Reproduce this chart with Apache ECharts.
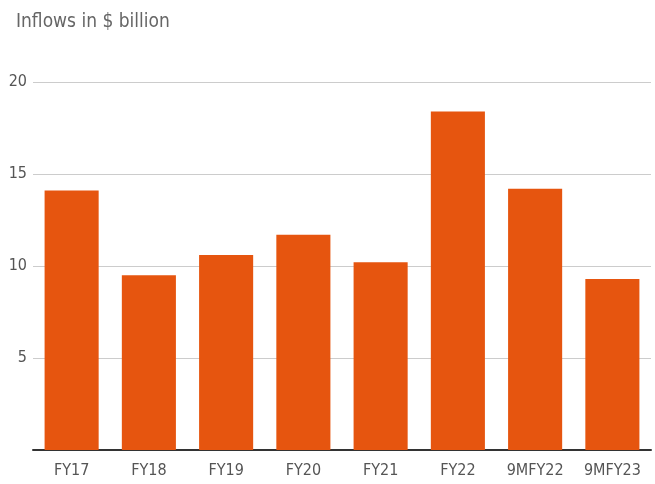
<!DOCTYPE html>
<html><head><meta charset="utf-8">
<script src="https://cdn.jsdelivr.net/npm/echarts@6/dist/echarts.min.js"></script>
<style>html,body{margin:0;padding:0;background:#fff}#c{width:655px;height:484px}</style>
</head><body><div id="c"></div>
<script>
var categories = ['FY17','FY18','FY19','FY20','FY21','FY22','9MFY22','9MFY23'];
var inflows = [14.1, 9.5, 10.6, 11.7, 10.2, 18.4, 14.2, 9.3];
var yTicks = [0, 5, 10, 15, 20];
var FONT = '"Liberation Sans Narrow","DejaVu Sans Condensed",sans-serif';
var chart = echarts.init(document.getElementById('c'));
chart.setOption({
  animation: false,
  title: {text: 'Inflows in $ billion', left: 11, top: 8,
    textStyle: {fontFamily: FONT, fontSize: 19, fontWeight: 'normal', color: '#666'}},
  grid: {left: 33, right: 4, top: 82, bottom: 34},
  xAxis: {type: 'category', data: categories,
    axisLine: {lineStyle: {color: '#333', width: 2}},
    axisTick: {show: false},
    axisLabel: {fontFamily: FONT, fontSize: 16, color: '#555', margin: 13}},
  yAxis: {type: 'value', min: yTicks[0], max: yTicks[yTicks.length-1], interval: 5,
    axisLine: {show: false}, axisTick: {show: false},
    axisLabel: {fontFamily: FONT, fontSize: 16, color: '#555', margin: 6,
      formatter: function(v){ return v === 0 ? '' : v; }},
    splitLine: {lineStyle: {color: '#ccc', width: 1}}},
  series: [{type: 'bar', data: inflows, barCategoryGap: '30%',
    itemStyle: {color: '#E6550F'}}]
});
</script></body></html>
